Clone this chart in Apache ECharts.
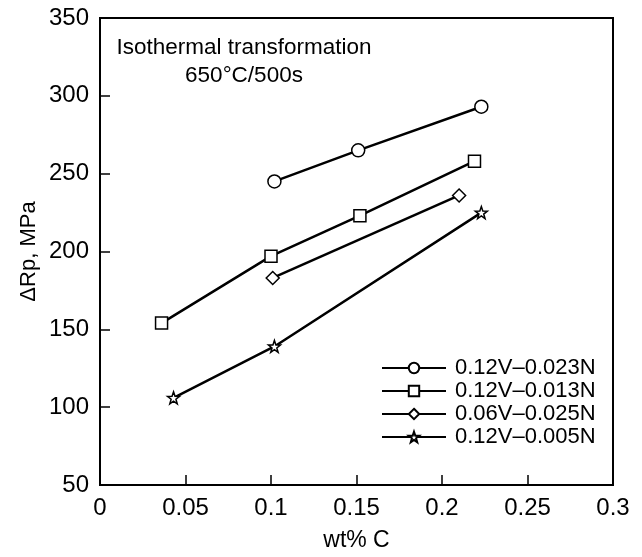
<!DOCTYPE html>
<html>
<head>
<meta charset="utf-8">
<script src="https://cdn.jsdelivr.net/npm/echarts@6/dist/echarts.min.js"></script>
<style>
  html, body { margin: 0; padding: 0; background: #fff; }
  #chart { width: 642px; height: 557px; }
</style>
</head>
<body>
<div id="chart"></div>
<script>
  // data: [wt% C, ΔRp MPa]
  const seriesNames = ['0.12V\u20130.023N', '0.12V\u20130.013N', '0.06V\u20130.025N', '0.12V\u20130.005N'];
  const v012n023 = [[0.102, 245], [0.151, 265], [0.223, 293]];
  const v012n013 = [[0.036, 154], [0.100, 197], [0.152, 223], [0.219, 258]];
  const v006n025 = [[0.101, 183], [0.210, 236]];
  const v012n005 = [[0.043, 106], [0.102, 139], [0.223, 225]];
  const xTicks = [0, 0.05, 0.1, 0.15, 0.2, 0.25, 0.3];
  const yTicks = [50, 100, 150, 200, 250, 300, 350];

  const font = '"Liberation Sans", Arial, sans-serif';
  const starPath = 'path://M0,-10L2.35,-3.24L9.51,-3.09L3.8,1.24L5.88,8.09L0,4L-5.88,8.09L-3.8,1.24L-9.51,-3.09L-2.35,-3.24Z';

  const myChart = echarts.init(document.getElementById('chart'), null, { renderer: 'canvas' });

  function makeSeries(name, data, symbol, size) {
    return {
      name: name,
      type: 'line',
      data: data,
      symbol: symbol,
      symbolSize: size,
      showAllSymbol: true,
      lineStyle: { color: '#000', width: 2.5 },
      itemStyle: { color: '#fff', borderColor: '#000', borderWidth: 1.5 },
      emphasis: { disabled: true },
      z: 3
    };
  }

  const option = {
    backgroundColor: '#fff',
    animation: false,
    grid: {
      left: 100, right: 29, top: 18, bottom: 71,
      show: true, borderColor: '#000', borderWidth: 2, backgroundColor: 'transparent'
    },
    xAxis: {
      type: 'value',
      min: 0, max: 0.3, interval: 0.05,
      name: 'wt% C',
      nameLocation: 'middle',
      nameGap: 44,
      nameMoveOverlap: false,
      nameTextStyle: { fontFamily: font, fontSize: 23, color: '#000' },
      axisLine: { show: true, onZero: false, lineStyle: { color: '#000', width: 2 } },
      axisTick: { show: true, inside: true, length: 10, lineStyle: { color: '#000', width: 1.5 } },
      axisLabel: {
        fontFamily: font, fontSize: 24, color: '#000', margin: 11,
        formatter: v => String(xTicks.find(t => Math.abs(t - v) < 1e-9) ?? v)
      },
      splitLine: { show: false }
    },
    yAxis: {
      type: 'value',
      min: yTicks[0], max: yTicks[yTicks.length - 1], interval: 50,
      name: '\u0394Rp, MPa',
      nameLocation: 'middle',
      nameGap: 60,
      nameMoveOverlap: false,
      nameTextStyle: { fontFamily: font, fontSize: 22, color: '#000' },
      axisLine: { show: true, onZero: false, lineStyle: { color: '#000', width: 2 } },
      axisTick: { show: true, inside: true, length: 10, lineStyle: { color: '#000', width: 1.5 } },
      axisLabel: { fontFamily: font, fontSize: 24, color: '#000', margin: 11 },
      splitLine: { show: false }
    },
    legend: {
      orient: 'vertical',
      left: 376, top: 352,
      itemWidth: 64, itemHeight: 13, itemGap: 1,
      textStyle: { fontFamily: font, fontSize: 22, lineHeight: 20, color: '#000', padding: [0, 0, 0, 4] },
      data: seriesNames
    },
    graphic: [{
      type: 'text',
      x: 244, y: 34,
      style: {
        text: 'Isothermal transformation\n650\u00b0C/500s',
        align: 'center',
        fontFamily: font, fontSize: 22.5, lineHeight: 28, fill: '#000'
      }
    }],
    series: [
      makeSeries(seriesNames[0], v012n023, 'circle', 13),
      makeSeries(seriesNames[1], v012n013, 'rect', 12),
      makeSeries(seriesNames[2], v006n025, 'diamond', 13),
      makeSeries(seriesNames[3], v012n005, starPath, 12)
    ]
  };
  myChart.setOption(option);
</script>
</body>
</html>
